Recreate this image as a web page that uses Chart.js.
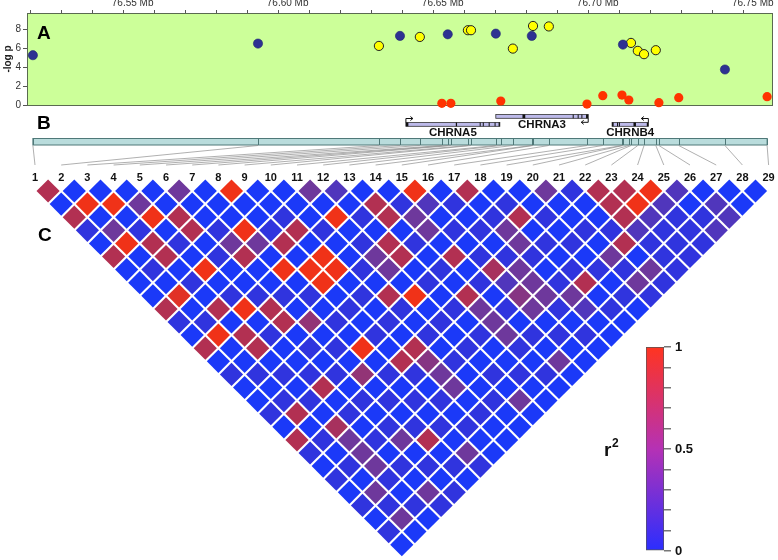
<!DOCTYPE html>
<html lang="en">
<head>
<meta charset="UTF-8">
<title>CHRNA5-CHRNA3-CHRNB4 association and LD</title>
<script src="https://cdn.jsdelivr.net/npm/chart.js"></script>
<style>
  body { margin: 0; background: #fff; }
  #wrap { position: relative; width: 778px; height: 560px; overflow: hidden; }
  #wrap canvas { position: absolute; }
  #assocChart { left: 0; top: 0; }
  #ldChart { left: 0; top: 0; }
  #keyChart { left: 640px; top: 335px; }
</style>
</head>
<body>
<div id="wrap">
  <canvas id="assocChart" width="778" height="114"></canvas>
  <canvas id="ldChart" width="778" height="560"></canvas>
  <canvas id="keyChart" width="70" height="228"></canvas>
</div>
<script>
// SNP positions (Mb), -log p and marker group (b = blue, y = yellow, r = red)
const snpPos = [76.5209, 76.5935, 76.6325, 76.6393, 76.6457, 76.6528, 76.6547, 76.6557, 76.6612, 76.6622,
  76.6702, 76.6718, 76.6757, 76.6818, 76.6822, 76.6873, 76.6996, 76.7047, 76.7109, 76.7112,
  76.7131, 76.7138, 76.7160, 76.7180, 76.7218, 76.7228, 76.7292, 76.7441, 76.7577];
const snpLogP = [5.26, 6.49, 6.24, 7.30, 7.19, 0.18, 7.47, 0.18, 7.90, 7.90,
  7.54, 0.42, 5.96, 7.30, 8.35, 8.30, 0.10, 0.98, 1.05, 6.38,
  0.53, 6.56, 5.72, 5.37, 5.79, 0.25, 0.77, 3.75, 0.88];
const snpGroup = ['b', 'b', 'y', 'b', 'y', 'r', 'b', 'r', 'y', 'y',
  'b', 'r', 'y', 'b', 'y', 'y', 'r', 'r', 'r', 'b',
  'r', 'y', 'y', 'y', 'y', 'r', 'r', 'b', 'r'];
const snpLabels = snpPos.map((_, i) => String(i + 1));

// axis tick labels
const majorTicks = [76.55, 76.60, 76.65, 76.70, 76.75];
const keyTicks = [0, 0.5, 1];

// genes (Mb)
const geneNames = ['CHRNA5', 'CHRNA3', 'CHRNB4'];
const geneStart = [76.6412, 76.6702, 76.7077];
const geneEnd = [76.6715, 76.7000, 76.7194];
const geneStrand = [1, -1, -1];
const geneRow = [1, 0, 1];
const geneExons = [
  [[76.6412, 76.6420], [76.6573, 76.6577], [76.6650, 76.6653], [76.6660, 76.6663], [76.6679, 76.6682], [76.6698, 76.6701], [76.6711, 76.6715]],
  [[76.6788, 76.6797], [76.6950, 76.6953], [76.6966, 76.6969], [76.6978, 76.6981], [76.6993, 76.7000]],
  [[76.7077, 76.7082], [76.7093, 76.7095], [76.7099, 76.7101], [76.7146, 76.7154], [76.7189, 76.7194]]
];

// pairwise r2, row i holds SNP i against SNP i+1 .. 29
const ldR2 = [
  [.75, .03, .75, .15, .03, .75, .03, .03, .03, .75, .15, .03, .75, .03, .15, .03, .03, .15, .03, .75, .15, .03, .15, .03, .15, .03, .15, .03],
  [.03, .95, .03, .45, .95, .03, .15, .03, .9, .03, .15, .95, .03, .03, .15, .03, .15, .75, .03, .15, .03, .15, .03, .45, .15, .45, .03],
  [.03, .95, .03, .15, .75, .75, .03, .15, .03, .75, .03, .75, .75, .03, .15, .03, .15, .03, .7, .45, .45, .45, .15, .03, .15, .03],
  [.03, .45, .95, .03, .15, .03, .95, .03, .15, .95, .03, .15, .03, .03, .15, .75, .03, .15, .03, .15, .03, .15, .03, .45, .15],
  [.03, .03, .75, .75, .03, .15, .03, .03, .15, .75, .75, .03, .15, .03, .15, .03, .15, .03, .15, .45, .03, .15, .03, .15],
  [.45, .03, .03, .15, .45, .75, .03, .03, .15, .03, .6, .03, .15, .03, .6, .03, .15, .03, .15, .75, .03, .15, .03],
  [.03, .03, .03, .95, .45, .03, .95, .03, .15, .03, .15, .03, .95, .03, .15, .03, .15, .03, .15, .03, .45, .15],
  [.95, .03, .03, .15, .75, .03, .95, .95, .03, .15, .03, .15, .03, .75, .15, .03, .15, .03, .15, .03, .03],
  [.03, .03, .15, .75, .03, .95, .95, .03, .15, .03, .15, .03, .75, .55, .45, .45, .03, .15, .03, .03],
  [.03, .03, .03, .15, .03, .03, .15, .03, .75, .15, .03, .15, .03, .15, .03, .03, .15, .03, .03],
  [.45, .03, .95, .03, .15, .45, .45, .03, .95, .03, .15, .03, .15, .03, .15, .03, .45, .03],
  [.3, .03, .15, .03, .75, .75, .03, .15, .03, .15, .03, .15, .03, .03, .15, .03, .03],
  [.03, .75, .75, .03, .15, .03, .15, .03, .75, .45, .45, .45, .15, .03, .15, .03],
  [.03, .15, .45, .45, .03, .75, .03, .15, .03, .15, .03, .15, .03, .45, .03],
  [.95, .3, .03, .15, .03, .15, .7, .3, .55, .45, .03, .15, .03, .03],
  [.03, .15, .03, .15, .03, .15, .45, .45, .45, .15, .03, .15, .03],
  [.75, .03, .15, .45, .45, .15, .03, .15, .45, .3, .03, .03],
  [.03, .15, .75, .03, .15, .03, .15, .75, .03, .15, .03],
  [.03, .03, .15, .03, .15, .03, .15, .03, .15, .03],
  [.45, .03, .03, .15, .03, .45, .15, .45, .15],
  [.15, .03, .03, .15, .75, .03, .45, .15],
  [.75, .75, .75, .3, .15, .15, .15],
  [.75, .95, .3, .15, .15, .15],
  [.95, .3, .15, .15, .15],
  [.3, .03, .15, .3],
  [.03, .3, .3],
  [.03, .03],
  [.03]
];

Chart.defaults.font.family = 'Arial, "Liberation Sans", sans-serif';

// ---- panel A: association ----
const aMin = 76.519, aMax = 76.7596;
const aLeft = 27, aRight = 773;
const groupStyle = {
  b: { fill: '#2e3192', line: '#1f2370', width: 0.6 },
  y: { fill: '#ffff00', line: '#222222', width: 1 },
  r: { fill: '#ff3300', line: '#ff3300', width: 0 }
};

const plotFrame = {
  id: 'plotFrame',
  beforeDraw(chart) {
    const { ctx, chartArea: a } = chart;
    ctx.save();
    ctx.fillStyle = '#ccff99';
    ctx.fillRect(a.left, a.top, a.right - a.left, a.bottom - a.top);
    ctx.restore();
  },
  beforeDatasetsDraw(chart) {
    const { ctx, chartArea: a } = chart;
    ctx.save();
    ctx.strokeStyle = '#5a6a50';
    ctx.lineWidth = 1;
    ctx.strokeRect(a.left + 0.5, a.top + 0.5, a.right - a.left - 1, a.bottom - a.top);
    ctx.fillStyle = '#000';
    ctx.font = 'bold 19px Arial, "Liberation Sans", sans-serif';
    ctx.textBaseline = 'alphabetic';
    ctx.fillText('A', 37, 39);
    ctx.restore();
  }
};

new Chart(document.getElementById('assocChart'), {
  type: 'scatter',
  data: {
    datasets: ['b', 'y', 'r'].map(g => ({
      data: snpPos.map((x, i) => ({ x, y: snpLogP[i], g: snpGroup[i] })).filter(p => p.g === g),
      backgroundColor: groupStyle[g].fill,
      borderColor: groupStyle[g].line,
      borderWidth: groupStyle[g].width,
      pointRadius: 4.6,
      clip: false
    }))
  },
  options: {
    responsive: false,
    animation: false,
    events: [],
    layout: { autoPadding: false, padding: { left: 0, top: 0, right: 778 - aRight, bottom: 9 } },
    plugins: { legend: { display: false }, tooltip: { enabled: false } },
    scales: {
      x: {
        type: 'linear', position: 'top', min: aMin, max: aMax,
        afterFit: s => { s.height = 13; },
        border: { display: false },
        grid: { drawOnChartArea: false, tickLength: 3, color: '#555' },
        ticks: {
          stepSize: 0.01, includeBounds: false, autoSkip: false, maxRotation: 0,
          padding: 1, labelOffset: 9.5, color: '#333', font: { size: 10 },
          callback: v => majorTicks.some(t => Math.abs(t - v) < 1e-6) ? v.toFixed(2) + ' Mb' : ''
        }
      },
      y: {
        min: 0, max: 9.72,
        afterFit: s => { s.width = aLeft; },
        border: { display: false },
        grid: { drawOnChartArea: false, tickLength: 4, color: '#555' },
        ticks: { stepSize: 2, includeBounds: false, padding: 2, color: '#333', font: { size: 10 } },
        title: { display: true, text: '-log p', color: '#222', font: { size: 10, weight: 'bold' }, padding: { top: 2, bottom: 0 } }
      }
    }
  },
  plugins: [plotFrame]
});

// ---- panels B and C: gene track and LD triangle ----
const W = 778, H = 560;
const ldLeft = 35, ldPitch = 26.2, ldTop = 191;
const hxMin = 1 - ldLeft / ldPitch;
const hyMin = 1 - ldTop / (ldPitch / 2);
const pxPerMb = (aRight - aLeft) / (aMax - aMin);
const posMin = aMin - aLeft / pxPerMb;

const ldPoints = [];
ldR2.forEach((row, i) => row.forEach((v, k) => {
  const a = i + 1, b = i + 2 + k;
  ldPoints.push({ x: (a + b) / 2, y: b - a, v });
}));

const cellStops = [[0, [22, 58, 255]], [0.15, [48, 52, 222]], [0.3, [80, 54, 188]], [0.45, [110, 56, 156]],
  [0.6, [146, 52, 118]], [0.75, [178, 48, 82]], [0.95, [240, 50, 24]], [1, [250, 48, 18]]];
function cellColour(v) {
  for (let k = 1; k < cellStops.length; k++) {
    const [v1, c1] = cellStops[k];
    const [v0, c0] = cellStops[k - 1];
    if (v <= v1) {
      const t = (v - v0) / (v1 - v0);
      return 'rgb(' + c0.map((c, n) => Math.round(c + (c1[n] - c) * t)).join(',') + ')';
    }
  }
  return 'rgb(250,48,18)';
}

const geneTrack = {
  id: 'geneTrack',
  afterDatasetsDraw(chart) {
    const { ctx } = chart;
    const pos = chart.scales.pos, hx = chart.scales.hx;
    const px = v => pos.getPixelForValue(v);
    ctx.save();

    ctx.fillStyle = '#000';
    ctx.font = 'bold 19px Arial, "Liberation Sans", sans-serif';
    ctx.fillText('B', 37, 129);
    ctx.fillText('C', 38, 241);

    // genes
    const rowTop = [114.5, 122.5], boxH = 3.8;
    geneNames.forEach((name, g) => {
      const x0 = px(geneStart[g]), x1 = px(geneEnd[g]);
      const top = rowTop[geneRow[g]];
      ctx.fillStyle = '#bdbaea';
      ctx.fillRect(x0, top, x1 - x0, boxH);
      ctx.strokeStyle = '#333';
      ctx.lineWidth = 0.8;
      ctx.strokeRect(x0, top, x1 - x0, boxH);
      ctx.fillStyle = '#111';
      geneExons[g].forEach(([s, e]) => {
        const a = px(s), b = px(e);
        ctx.fillRect(a, top, Math.max(1, b - a), boxH);
      });
      // transcription start arrow
      const xs = geneStrand[g] > 0 ? x0 : x1;
      const up = geneRow[g] === 1;
      const yb = up ? top : top + boxH;
      const ya = up ? yb - 4 : yb + 4;
      const xe = xs + 7 * geneStrand[g];
      ctx.strokeStyle = '#111';
      ctx.lineWidth = 1;
      ctx.beginPath();
      ctx.moveTo(xs, yb);
      ctx.lineTo(xs, ya);
      ctx.lineTo(xe, ya);
      ctx.moveTo(xe - 2.5 * geneStrand[g], ya - 2);
      ctx.lineTo(xe, ya);
      ctx.lineTo(xe - 2.5 * geneStrand[g], ya + 2);
      ctx.stroke();
      ctx.fillStyle = '#111';
      ctx.font = 'bold 11.5px Arial, "Liberation Sans", sans-serif';
      ctx.textAlign = 'center';
      ctx.textBaseline = 'middle';
      ctx.fillText(name, (x0 + x1) / 2, top + boxH + 6.5);
    });

    // SNP position bar
    const barTop = 138.5, barBot = 145;
    const first = px(snpPos[0]), last = px(snpPos[snpPos.length - 1]);
    ctx.fillStyle = '#b9dcdc';
    ctx.fillRect(first, barTop, last - first, barBot - barTop);
    ctx.strokeStyle = '#4f7878';
    ctx.lineWidth = 1;
    ctx.strokeRect(first, barTop, last - first, barBot - barTop);
    ctx.beginPath();
    snpPos.forEach(p => {
      const x = Math.round(px(p)) + 0.5;
      ctx.moveTo(x, barTop);
      ctx.lineTo(x, barBot);
    });
    ctx.stroke();

    // lines from positions to LD columns
    ctx.strokeStyle = '#8e8e8e';
    ctx.lineWidth = 0.7;
    ctx.beginPath();
    snpPos.forEach((p, i) => {
      ctx.moveTo(px(p), barBot + 0.5);
      ctx.lineTo(hx.getPixelForValue(i + 1), 165);
    });
    ctx.stroke();

    // SNP numbers
    ctx.fillStyle = '#111';
    ctx.font = 'bold 11px Arial, "Liberation Sans", sans-serif';
    ctx.textAlign = 'center';
    ctx.textBaseline = 'middle';
    snpLabels.forEach((t, i) => ctx.fillText(t, hx.getPixelForValue(i + 1), 178));

    // key title
    ctx.textAlign = 'left';
    ctx.textBaseline = 'alphabetic';
    ctx.font = 'bold 19px Arial, "Liberation Sans", sans-serif';
    ctx.fillText('r', 604, 456);
    ctx.font = 'bold 12px Arial, "Liberation Sans", sans-serif';
    ctx.fillText('2', 612, 447);
    ctx.restore();
  }
};

new Chart(document.getElementById('ldChart'), {
  type: 'scatter',
  data: {
    datasets: [{
      data: ldPoints,
      xAxisID: 'hx',
      yAxisID: 'hy',
      pointStyle: 'rectRot',
      pointRadius: 11.6,
      borderWidth: 0,
      clip: false,
      backgroundColor: c => cellColour(c.raw ? c.raw.v : 0)
    }]
  },
  options: {
    responsive: false,
    animation: false,
    events: [],
    layout: { autoPadding: false, padding: 0 },
    plugins: { legend: { display: false }, tooltip: { enabled: false } },
    scales: {
      hx: { type: 'linear', axis: 'x', display: false, min: hxMin, max: hxMin + W / ldPitch },
      hy: { type: 'linear', axis: 'y', display: false, reverse: true, min: hyMin, max: hyMin + H / (ldPitch / 2) },
      pos: { type: 'linear', axis: 'x', display: false, min: posMin, max: posMin + W / pxPerMb }
    }
  },
  plugins: [geneTrack]
});

// ---- r2 colour key ----
new Chart(document.getElementById('keyChart'), {
  type: 'bar',
  data: {
    labels: ['r2'],
    datasets: [{
      data: [1],
      backgroundColor: c => {
        const a = c.chart.chartArea;
        if (!a) return '#b531b5';
        const g = c.chart.ctx.createLinearGradient(0, a.bottom, 0, a.top);
        g.addColorStop(0, '#2a2eff');
        g.addColorStop(0.5, '#b531b5');
        g.addColorStop(1, '#ff3420');
        return g;
      },
      borderColor: '#555',
      borderWidth: 1,
      borderSkipped: false,
      barPercentage: 1,
      categoryPercentage: 1
    }]
  },
  options: {
    responsive: false,
    animation: false,
    events: [],
    layout: { autoPadding: false, padding: { left: 6, top: 12, bottom: 12, right: 0 } },
    plugins: { legend: { display: false }, tooltip: { enabled: false } },
    scales: {
      x: { display: false },
      y: {
        position: 'right', min: 0, max: 1,
        afterFit: s => { s.width = 46; },
        border: { display: false },
        grid: { drawOnChartArea: false, tickLength: 7, color: '#777', lineWidth: 1.5 },
        ticks: {
          stepSize: 0.1, padding: 4, color: '#111', font: { size: 13, weight: 'bold' },
          callback: v => keyTicks.includes(+v.toFixed(1)) ? String(+v.toFixed(1)) : ''
        }
      }
    }
  }
});
</script>
</body>
</html>
